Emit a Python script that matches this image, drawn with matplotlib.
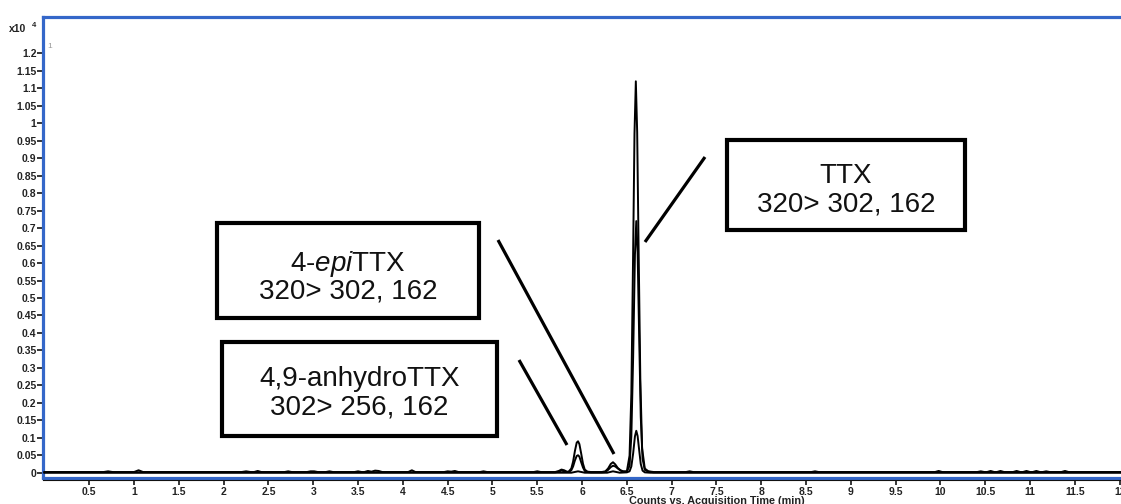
import matplotlib
matplotlib.use("Agg")
import matplotlib.pyplot as plt
from matplotlib.patches import Rectangle
from matplotlib.lines import Line2D

plt.rcParams['font.family'] = ['Liberation Sans', 'DejaVu Sans']
plt.rcParams['mathtext.fontset'] = 'custom'
plt.rcParams['mathtext.rm'] = 'Liberation Sans'
plt.rcParams['mathtext.it'] = 'Liberation Sans:italic'

# ---------------- data (acquisition time in min, counts x10^4) ----------------
time_a = [0.00, 0.66, 0.71, 0.76, 1.00, 1.05, 1.10, 2.20, 2.25, 2.30, 2.34, 2.38, 2.42,
          2.68, 2.72, 2.76, 2.93, 2.97, 3.01, 3.05, 3.14, 3.18, 3.22, 3.46, 3.50, 3.54,
          3.57, 3.61, 3.65, 3.69, 3.73, 3.77, 4.06, 4.10, 4.14, 4.46, 4.50, 4.54, 4.58, 4.62,
          4.86, 4.90, 4.94, 5.46, 5.50, 5.54, 5.70, 5.74, 5.77, 5.80, 5.83,
          5.85, 5.88, 5.90, 5.92, 5.94, 5.955, 5.97, 5.99, 6.01, 6.03, 6.06, 6.10,
          6.22, 6.26, 6.29, 6.32, 6.345, 6.37, 6.40, 6.43, 6.46,
          6.50, 6.53, 6.55, 6.57, 6.585, 6.60, 6.615, 6.63, 6.65, 6.67, 6.70, 6.74, 6.80,
          7.16, 7.20, 7.24, 8.56, 8.60, 8.64, 9.94, 9.98, 10.02, 10.41, 10.45, 10.49,
          10.52, 10.56, 10.60, 10.63, 10.67, 10.71, 10.81, 10.85, 10.89, 10.92, 10.96, 11.00,
          11.03, 11.07, 11.11, 11.14, 11.18, 11.22, 11.35, 11.39, 11.43, 12.01]
counts_a = [0.002, 0.002, 0.004, 0.002, 0.002, 0.007, 0.002, 0.002, 0.004, 0.002, 0.002, 0.005, 0.002,
            0.002, 0.004, 0.002, 0.002, 0.004, 0.004, 0.002, 0.002, 0.004, 0.002, 0.002, 0.004, 0.002,
            0.002, 0.005, 0.003, 0.006, 0.005, 0.002, 0.002, 0.007, 0.002, 0.002, 0.004, 0.003, 0.005, 0.002,
            0.002, 0.004, 0.002, 0.002, 0.004, 0.002, 0.002, 0.005, 0.009, 0.007, 0.003,
            0.003, 0.012, 0.032, 0.062, 0.086, 0.090, 0.082, 0.055, 0.026, 0.009, 0.003, 0.002,
            0.002, 0.004, 0.012, 0.025, 0.030, 0.024, 0.013, 0.007, 0.004,
            0.004, 0.049, 0.227, 0.631, 0.970, 1.120, 0.975, 0.660, 0.270, 0.070, 0.012, 0.004, 0.002,
            0.002, 0.004, 0.002, 0.002, 0.004, 0.002, 0.002, 0.005, 0.002, 0.002, 0.004, 0.002,
            0.002, 0.005, 0.002, 0.002, 0.005, 0.002, 0.002, 0.005, 0.002, 0.002, 0.005, 0.002,
            0.002, 0.005, 0.002, 0.002, 0.004, 0.002, 0.002, 0.005, 0.002, 0.002]

time_b = [0.00, 5.70, 5.74, 5.77, 5.80, 5.83,
          5.85, 5.88, 5.90, 5.92, 5.94, 5.955, 5.97, 5.99, 6.01, 6.03, 6.06, 6.10,
          6.22, 6.26, 6.29, 6.32, 6.345, 6.37, 6.40, 6.43, 6.46,
          6.50, 6.53, 6.55, 6.57, 6.59, 6.605, 6.62, 6.635, 6.655, 6.675, 6.70, 6.74, 6.80,
          12.01]
counts_b = [0.001, 0.001, 0.003, 0.006, 0.004, 0.002,
            0.002, 0.007, 0.018, 0.035, 0.048, 0.050, 0.046, 0.030, 0.015, 0.005, 0.002, 0.001,
            0.001, 0.002, 0.008, 0.016, 0.020, 0.018, 0.012, 0.006, 0.003,
            0.003, 0.020, 0.105, 0.330, 0.624, 0.720, 0.630, 0.420, 0.160, 0.040, 0.008, 0.003, 0.001,
            0.001]

time_c = [0.00, 5.88, 5.955, 6.03, 6.28, 6.345, 6.42, 6.50, 6.53, 6.55, 6.57, 6.59,
          6.605, 6.62, 6.635, 6.655, 6.675, 6.70, 6.76, 12.01]
counts_c = [0.0, 0.0, 0.004, 0.0, 0.0, 0.004, 0.0, 0.001, 0.004, 0.018, 0.055, 0.104,
            0.120, 0.105, 0.070, 0.025, 0.006, 0.001, 0.0, 0.0]

x_ticks = [0.5, 1, 1.5, 2, 2.5, 3, 3.5, 4, 4.5, 5, 5.5, 6, 6.5, 7, 7.5, 8, 8.5, 9, 9.5,
           10, 10.5, 11, 11.5, 12]
y_ticks = [0, 0.05, 0.1, 0.15, 0.2, 0.25, 0.3, 0.35, 0.4, 0.45, 0.5, 0.55, 0.6, 0.65,
           0.7, 0.75, 0.8, 0.85, 0.9, 0.95, 1, 1.05, 1.1, 1.15, 1.2]

box_lines = {
    'ttx': ['TTX', '320> 302, 162'],
    'epi': [r'4-$\mathit{epi}$TTX', '320> 302, 162'],
    'anh': ['4,9-anhydroTTX', '302> 256, 162'],
}
x_label = 'Counts vs. Acquisition Time (min)'

# ---------------- layout ----------------
W_PX, H_PX = 1121, 504
BLUE = '#3467c9'

def fx(x):
    return x / W_PX

def fy(y):
    return 1 - y / H_PX

fig = plt.figure(figsize=(W_PX / 100, H_PX / 100), dpi=100)
left_px, right_px, top_px, bottom_px = 43.5, 1121, 17, 477.5
ax = fig.add_axes([fx(left_px), fy(bottom_px), fx(right_px - left_px), (bottom_px - top_px) / H_PX])

for t, c in ((time_a, counts_a), (time_b, counts_b), (time_c, counts_c)):
    ax.plot(t, c, color='black', lw=1.4, solid_joinstyle='round', zorder=3)

ax.set_xlim(-0.011, 12.015)
ax.set_ylim(-0.0137, 1.304)

ax.set_xticks(x_ticks)
ax.set_xticklabels(['%g' % v for v in x_ticks])
ax.set_yticks(y_ticks)
ax.set_yticklabels(['%g' % v for v in y_ticks])
ax.tick_params(axis='x', direction='out', length=5, width=1.1, pad=1.5,
               labelsize=7.5, colors='black')
ax.tick_params(axis='y', direction='out', length=4, width=1.1, pad=1.0,
               labelsize=7.5, colors='black')
for lab in ax.get_xticklabels() + ax.get_yticklabels():
    lab.set_fontweight('bold')
    lab.set_color('#222222')

ax.spines['right'].set_visible(False)
for s in ('left', 'top', 'bottom'):
    ax.spines[s].set_color(BLUE)
    ax.spines[s].set_linewidth(2.3)
# dark rule under bottom spine
fig.add_artist(Line2D([fx(left_px), 1.0], [fy(479.5), fy(479.5)], color='#111111', lw=0.8))

# axis annotations
fig.text(fx(9), fy(32), 'x10', fontsize=7.5, color='#222222', fontweight='bold', va='baseline', ha='left')
fig.text(fx(32), fy(27), '4', fontsize=5.5, color='#222222', fontweight='bold', va='baseline', ha='left')
fig.text(fx(47), fy(48), '1', fontsize=6, color='#9a9a9a', va='baseline', ha='left')
fig.text(fx(717), fy(496), x_label, fontsize=7.8, fontweight='bold', color='#222222',
         ha='center', va='top')

# annotation boxes
def box(x0, y0, x1, y1, lines, baselines, fs=20):
    fig.add_artist(Rectangle((fx(x0), fy(y1)), fx(x1 - x0), (y1 - y0) / H_PX,
                             facecolor='white', edgecolor='black', lw=3.0,
                             transform=fig.transFigure, zorder=5))
    cx = (x0 + x1) / 2
    for txt, b in zip(lines, baselines):
        fig.text(fx(cx), fy(b), txt, fontsize=fs, ha='center', va='baseline',
                 color='#111111', zorder=6)

box(727, 140, 965, 230, box_lines['ttx'], [183, 211])
box(217, 223, 479, 318, box_lines['epi'], [271, 299])
box(222, 342, 497, 436, box_lines['anh'], [386, 414])

# leader lines
for (x0, y0, x1, y1) in ((705, 157, 645, 242), (498, 240, 614, 454), (519, 360, 567, 445)):
    fig.add_artist(Line2D([fx(x0), fx(x1)], [fy(y0), fy(y1)], color='black', lw=2.3,
                          solid_capstyle='butt'))

fig.savefig('out.png', dpi=100)
